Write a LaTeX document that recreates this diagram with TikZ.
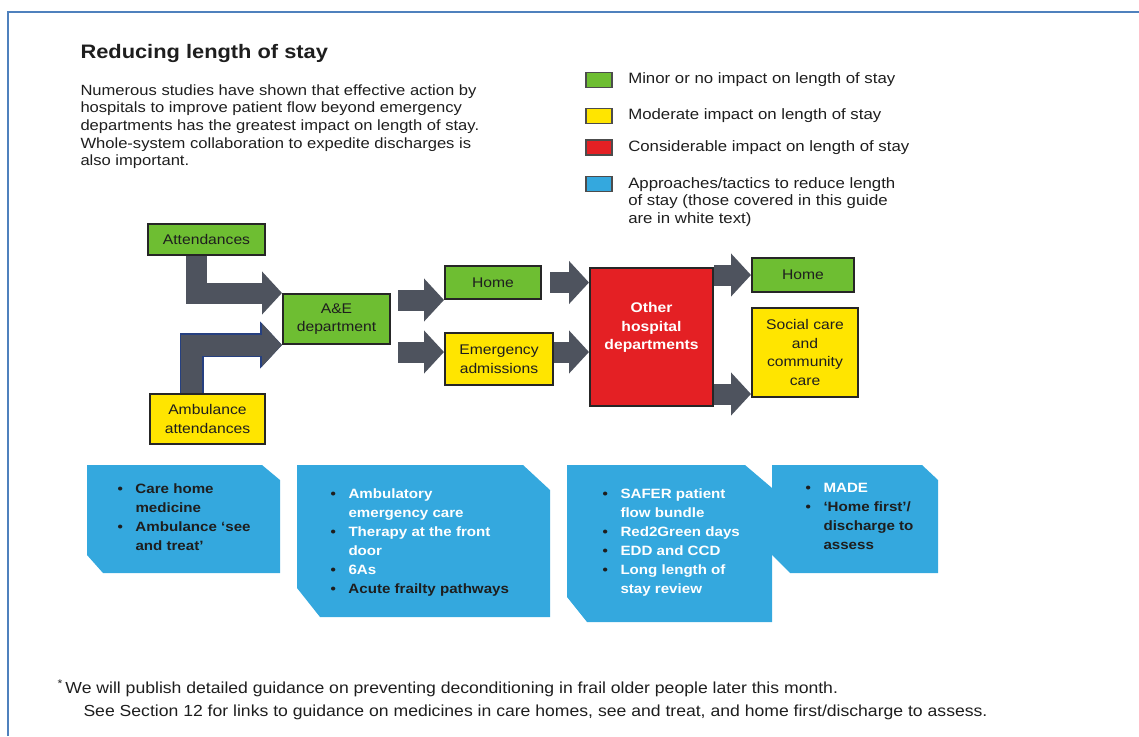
\documentclass[tikz,border=0pt]{standalone}
\usepackage{fontspec}
\setmainfont{Liberation Sans}[FakeStretch=1.12]
\newfontfamily\notefont{Liberation Sans}[FakeStretch=1.1]
\usetikzlibrary{arrows.meta,positioning,calc}

\definecolor{minorgreen}{RGB}{110,190,50}
\definecolor{modyellow}{RGB}{255,229,0}
\definecolor{consred}{RGB}{228,32,36}
\definecolor{tacticblue}{RGB}{52,168,222}
\definecolor{flowgrey}{RGB}{78,83,94}
\definecolor{ambedge}{RGB}{38,64,128}
\definecolor{frameblue}{RGB}{79,129,189}
\definecolor{inkdark}{RGB}{30,30,30}

\newcommand{\titlefont}{\fontsize{19.5}{23}\selectfont\bfseries}
\newcommand{\introfont}{\fontsize{14.8}{17.6}\selectfont}
\newcommand{\keyfont}{\fontsize{15}{17.5}\selectfont}
\newcommand{\boxfont}{\fontsize{14}{18.5}\selectfont}
\newcommand{\tacticfont}{\fontsize{13.5}{19}\selectfont\bfseries}
\newcommand{\listdot}{\makebox[18pt][l]{\textbullet}}
\newcommand{\listgap}{\hspace*{18pt}}

\tikzset{
every picture/.style={
line width=1pt
}}
\tikzset{
  impact/.style={draw=black!85, line width=2pt, inner sep=0pt, align=center, font=\boxfont, text=inkdark},
  flow/.style={draw=flowgrey, line width=21pt, line join=miter, -{Triangle[width=42pt,length=20pt]}},
  key/.style={draw=black!70, line width=1.5pt, minimum width=26pt, minimum height=15pt, inner sep=0pt},
  keytext/.style={font=\keyfont, text=inkdark, inner sep=0pt, align=left},
  tactic/.style={anchor=north west, align=left, font=\tacticfont, text=inkdark, inner sep=0pt}
}

\begin{document}
\begin{tikzpicture}[x=1pt,y=-1pt]
  \useasboundingbox (0,0) rectangle (1139,736);
  \draw[frameblue, line width=2.5pt] (8,736) -- (8,12) -- (1139,12);

  % heading
  \node[anchor=north west, inner sep=0pt, font=\titlefont, text=inkdark] (title) at (80,44) {Reducing length of stay};
  \node[anchor=north west, inner sep=0pt, align=left, font=\introfont, text=inkdark] (intro) at (80,84)
    {Numerous studies have shown that effective action by\\
     hospitals to improve patient flow beyond emergency\\
     departments has the greatest impact on length of stay.\\
     Whole-system collaboration to expedite discharges is\\
     also important.};

  % key
  \node[key, fill=minorgreen] (kminor) at (599,80) {};
  \node[keytext, right=15pt of kminor] (tminor) {Minor or no impact on length of stay};
  \node[key, fill=modyellow] (kmod) at (599,116) {};
  \node[keytext, right=15pt of kmod] (tmod) {Moderate impact on length of stay};
  \node[key, fill=consred] (kcons) at (599,147.5) {};
  \node[keytext, right=15pt of kcons] (tcons) {Considerable impact on length of stay};
  \node[key, fill=tacticblue] (ktactic) at (599,184) {};
  \node[keytext, anchor=north west] (ttactic) at ([xshift=15pt,yshift=-1pt]ktactic.north east)
    {Approaches/tactics to reduce length\\of stay (those covered in this guide\\are in white text)};

  % patient flow
  \node[impact, fill=minorgreen, minimum width=117pt, minimum height=31pt] (attend) at (206.5,239.5) {Attendances};
  \node[impact, fill=minorgreen, minimum width=107pt, minimum height=50pt] (ae) at (336.5,319) {A\&E\\department};
  \node[impact, fill=modyellow, minimum width=115pt, minimum height=50pt] (amb) at (207.5,419) {Ambulance\\attendances};
  \node[impact, fill=minorgreen, minimum width=96pt, minimum height=33pt] (home) at (493,282.5) {Home};
  \node[impact, fill=modyellow, minimum width=108pt, minimum height=52pt] (emerg) at (499,359) {Emergency\\admissions};
  \node[impact, fill=consred, minimum width=123pt, minimum height=138pt,
    label={[anchor=north, yshift=-32pt, align=center, text=white, font=\boxfont\bfseries]north:{Other\\hospital\\departments}}] (other) at (651.5,337) {};
  \node[impact, fill=minorgreen, minimum width=102pt, minimum height=34pt] (homeout) at (803,275) {Home};
  \node[impact, fill=modyellow, minimum width=106pt, minimum height=89pt] (social) at (805,352.5) {Social care\\and\\community\\care};

  \coordinate (aeout) at ([xshift=7pt]ae.east);
  \coordinate (emin) at ([yshift=7pt]emerg.west);
  \coordinate (socin) at ([yshift=4pt]social.south west);

  \draw[flow] ([xshift=-10pt]attend.south) |- (ae.north west);
  \draw[flow, preaction={draw=ambedge, line width=24pt, -{Triangle[width=46pt,length=22pt]}}]
    ([xshift=-16pt]amb.north) |- (ae.south west);
  \draw[flow] (aeout |- home.south west) -- (home.south west);
  \draw[flow] (aeout |- emin) -- (emin);
  \draw[flow] ([xshift=8pt]home.east) -- (other.west |- home.east);
  \draw[flow] ([yshift=7pt]emerg.east) -- (other.west |- emin);
  \draw[flow] (other.east |- homeout.west) -- (homeout.west);
  \draw[flow] (other.east |- socin) -- (socin);

  % approaches and tactics
  \fill[tacticblue] (87,465) -- (262,465) -- (280,480) -- (280,573) -- (103,573) -- (87,555) -- cycle;
  \fill[tacticblue] (297,465) -- (523,465) -- (550,490) -- (550,617) -- (320,617) -- (297,588) -- cycle;
  \fill[tacticblue] (567,465) -- (745,465) -- (772,488) -- (772,622) -- (587,622) -- (567,597) -- cycle;
  \fill[tacticblue] (772,465) -- (922,465) -- (938,480) -- (938,573) -- (790,573) -- (772,555) -- cycle;

  \node[tactic] (tcare) at (117,483)
    {\listdot Care home\\\listgap medicine\\\listdot Ambulance ‘see\\\listgap and treat’};
  \node[tactic] (tae) at (330,488)
    {\listdot\textcolor{white}{Ambulatory}\\\listgap\textcolor{white}{emergency care}\\
     \listdot\textcolor{white}{Therapy at the front}\\\listgap\textcolor{white}{door}\\
     \listdot\textcolor{white}{6As}\\\listdot Acute frailty pathways};
  \node[tactic] (tother) at (602,488)
    {\listdot\textcolor{white}{SAFER patient}\\\listgap\textcolor{white}{flow bundle}\\
     \listdot\textcolor{white}{Red2Green days}\\\listdot\textcolor{white}{EDD and CCD}\\
     \listdot\textcolor{white}{Long length of}\\\listgap\textcolor{white}{stay review}};
  \node[tactic] (tdisch) at (805,483)
    {\listdot\textcolor{white}{MADE}\\\listdot ‘Home first’/\\\listgap discharge to\\\listgap assess};

  % footnote
  \node[anchor=north west, inner sep=0pt, align=left, font=\notefont\fontsize{16}{23}\selectfont, text=inkdark] (note) at (57,679)
    {\textsuperscript{*}\,We will publish detailed guidance on preventing deconditioning in frail older people later this month.\\
     \hspace*{26pt}See Section 12 for links to guidance on medicines in care homes, see and treat, and home first/discharge to assess.};
\end{tikzpicture}
\end{document}
